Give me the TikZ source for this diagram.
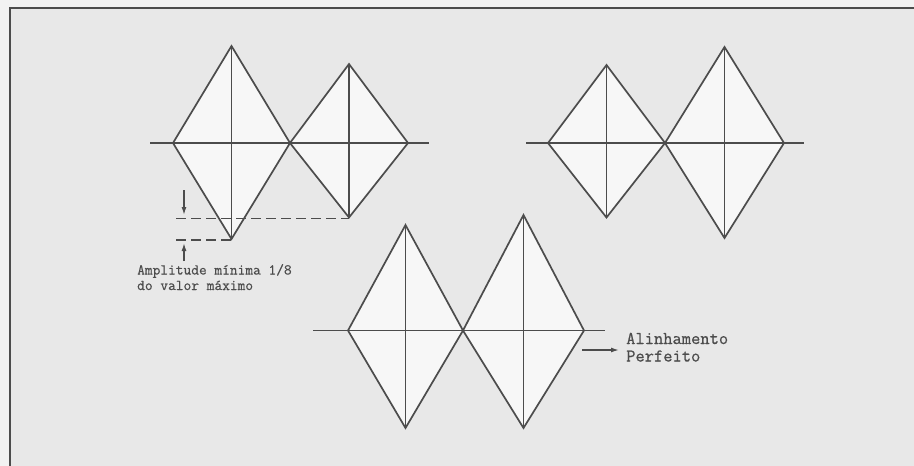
\documentclass[tikz,border=0pt]{standalone}
\usepackage{fontspec}
\newfontfamily\maquina[FakeBold=0.6]{Latin Modern Mono}
\usetikzlibrary{arrows.meta}
\definecolor{papel}{gray}{0.91}
\definecolor{margem}{gray}{0.95}
\definecolor{claro}{gray}{0.97}
\definecolor{tinta}{gray}{0.3}

\begin{document}
\begin{tikzpicture}[x=1pt,y=-1pt,
		traco/.style={draw=tinta, line width=1.7pt},
		tracejado/.style={traco, dash pattern=on 10pt off 5pt},
		seta/.style={draw=tinta, line width=1.4pt, -{Latex[length=8pt,width=5pt]}},
		textoA/.style={font=\maquina\fontsize{15}{16}\selectfont, text=tinta, inner sep=0pt, anchor=base west},
		textoB/.style={font=\maquina\fontsize{18}{17}\selectfont, text=tinta, inner sep=0pt, anchor=base west}]
	\useasboundingbox (0,0) rectangle (914,466);
	\fill[margem] (0,0) rectangle (914,466);
	\fill[papel] (10,7.5) rectangle (914,466);
	\draw[tinta, line width=2pt] (10,466) -- (10,7.5) -- (914,7.5);
	% losangos: esquerda/direita/eixo/topo/base
	\foreach \e/\d/\y/\t/\b in {173/290/143/46/239, 290/408/143/64/217.5,
			548/665/143/65/217.5, 665/784/143/47/238,
			348/463/330.5/225/428, 463/584/330.5/215/428}{
		\filldraw[traco, fill=claro] (\e,\y) -- ({(\e+\d)/2},\t) -- (\d,\y) -- ({(\e+\d)/2},\b) -- cycle;
		\draw[traco] ({(\e+\d)/2},\t) -- ({(\e+\d)/2},\b);
	}
	% eixos
	\draw[traco] (150,143) -- (429,143);
	\draw[traco] (526,143) -- (804,143);
	\draw[traco] (313,330.5) -- (605,330.5);
	% amplitude minima
	\draw[tracejado] (176,218.5) -- (349,218.5);
	\draw[tracejado] (176,240) -- (231,240);
	\coordinate (cimaA) at (184,190);
	\coordinate (cimaB) at (184,215);
	\coordinate (baixoA) at (184,261);
	\coordinate (baixoB) at (184,243);
	\draw[seta] (cimaA) -- (cimaB);
	\draw[seta] (baixoA) -- (baixoB);
	\node[textoA] (amplitude) at (137,274.5) {Amplitude mínima 1/8};
	\node[textoA] (valor) at (137,290) {do valor máximo};
	% alinhamento
	\node[textoB] (alinhamento) at (626,344) {Alinhamento};
	\node[textoB] (perfeito) at (626,361.5) {Perfeito};
	\coordinate (setaC) at (582,350);
	\coordinate (pontaC) at (619,350);
	\draw[seta] (setaC) -- (pontaC);
\end{tikzpicture}
\end{document}
